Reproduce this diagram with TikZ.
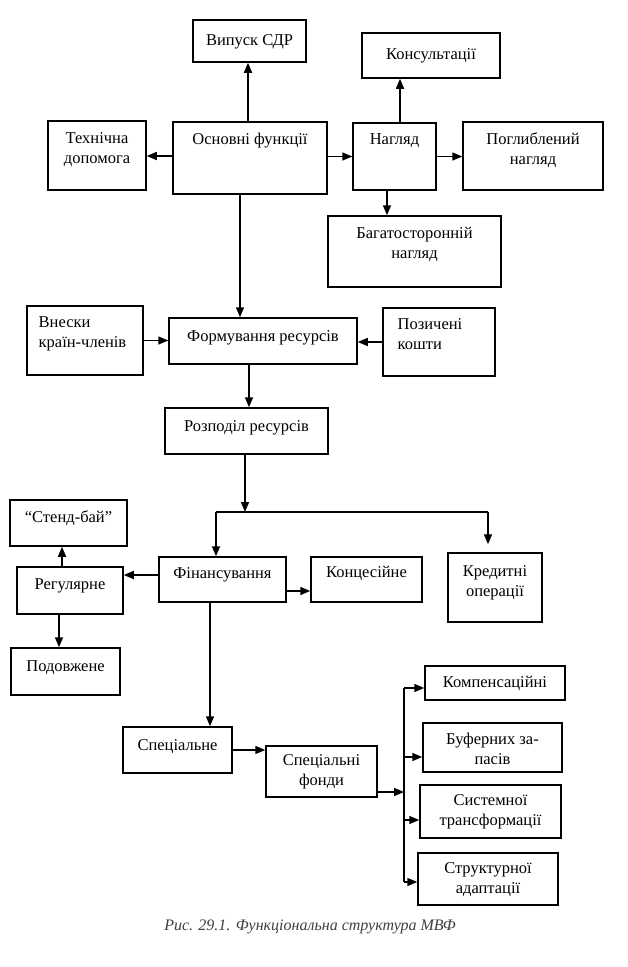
\documentclass[tikz,border=0pt]{standalone}
\usepackage{fontspec}
\setmainfont{Liberation Serif}
\usetikzlibrary{arrows.meta}
\newcommand\bt[2]{\raisebox{#1}[\height][\depth]{\begin{tabular}{@{}c@{}}#2\end{tabular}}}
\newcommand\btl[3]{\hspace*{#1}\raisebox{#2}[\height][\depth]{\begin{tabular}{@{}l@{}}#3\end{tabular}}}
\begin{document}
\begin{tikzpicture}[x=1pt,y=-1pt,
  box/.style={draw, line width=1.5pt, inner sep=0pt, align=center, font=\fontsize{16.5}{20}\selectfont},
  wh/.style 2 args={minimum width=#1pt, minimum height=#2pt},
  arr/.style={line width=1.5pt, -{Triangle[length=10pt,width=8pt]}},
  ln/.style={line width=1.5pt}]
\fill[white] (0,0) rectangle (627,967);
\useasboundingbox (0,0) rectangle (627,967);
% boxes
\node[box, wh={113}{42}] (vyp) at (249.5,41) {\bt{0pt}{Випуск СДР}};
\node[box, wh={138}{45}] (kons) at (431,55.5) {\bt{0pt}{Консультації}};
\node[box, wh={98}{69}] (teh) at (97,155.5) {\bt{6pt}{Технічна\\допомога}};
\node[box, wh={154}{72}] (osn) at (250,158) {\bt{18pt}{Основні функції}};
\node[box, wh={83}{67}] (nag) at (394.5,156.5) {\bt{16pt}{Нагляд}};
\node[box, wh={140}{68}] (pog) at (533,156) {\bt{6pt}{Поглиблений\\нагляд}};
\node[box, wh={173}{71}] (bag) at (414.5,251.5) {\bt{7pt}{Багатосторонній\\нагляд}};
\node[box, wh={116}{69}] (vnes) at (85,340.5) {\btl{-5pt}{7pt}{Внески\\країн-членів}};
\node[box, wh={188}{46}] (form) at (263,341) {\bt{4pt}{Формування ресурсів}};
\node[box, wh={112}{68}] (poz) at (439,342) {\btl{-18pt}{7pt}{Позичені\\кошти}};
\node[box, wh={163}{46}] (rozp) at (246.5,431) {\bt{4pt}{Розподіл ресурсів}};
\node[box, wh={117}{46}] (stand) at (68.5,523) {\bt{5pt}{“Стенд-бай”}};
\node[box, wh={106}{47}] (reg) at (70,590.5) {\bt{5pt}{Регулярне}};
\node[box, wh={127}{45}] (fin) at (222.5,579.5) {\bt{5pt}{Фінансування}};
\node[box, wh={111}{45}] (konc) at (366.5,579.5) {\bt{6pt}{Концесійне}};
\node[box, wh={94}{69}] (kred) at (495,587.5) {\bt{5pt}{Кредитні\\операції}};
\node[box, wh={109}{47}] (pod) at (65.5,671.5) {\bt{4pt}{Подовжене}};
\node[box, wh={109}{46}] (spec) at (177.5,750) {\bt{4pt}{Спеціальне}};
\node[box, wh={111}{51}] (fondy) at (321.5,771.5) {\bt{0pt}{Спеціальні\\фонди}};
\node[box, wh={140}{34}] (komp) at (495,683) {\bt{0pt}{Компенсаційні}};
\node[box, wh={139}{49}] (buf) at (492.5,747.5) {\bt{-3pt}{Буферних за-\\пасів}};
\node[box, wh={141}{53}] (sys) at (490.5,811.5) {\bt{0pt}{Системної\\трансформації}};
\node[box, wh={140}{52}] (str) at (488,879) {\bt{0pt}{Структурної\\адаптації}};
% connectors
\draw[arr] ([xshift=-2pt]osn.north) -- ([xshift=-2pt]osn.north |- vyp.south);
\draw[arr] ([xshift=5.5pt]nag.north) -- ([xshift=5.5pt]nag.north |- kons.south);
\draw[arr] ([yshift=-0.5pt]teh.east -| osn.west) -- ([yshift=-0.5pt]teh.east);
\draw[arr] (nag.west -| osn.east) -- (nag.west);
\draw[arr] (nag.east) -- (nag.east -| pog.west);
\draw[arr] ([xshift=-7.5pt]nag.south) -- ([xshift=-7.5pt]nag.south |- bag.north);
\draw[arr] ([xshift=-10pt]osn.south) -- ([xshift=-10pt]osn.south |- form.north);
\draw[arr] (vnes.east) -- (vnes.east -| form.west);
\draw[arr] (poz.west) -- (poz.west -| form.east);
\draw[arr] ([xshift=2.5pt]rozp.north |- form.south) -- ([xshift=2.5pt]rozp.north);
\coordinate (j) at (245,512);
\coordinate (jl) at (216,512);
\coordinate (jr) at (488,512);
\draw[arr] (rozp.south -| j) -- (j);
\draw[ln] (jl) -- (jr);
\draw[arr] (jl) -- (jl |- fin.north);
\draw[arr] (jr) -- ([yshift=8pt]jr |- kred.north);
\draw[arr] ([xshift=-8pt]reg.north) -- ([xshift=-8pt]reg.north |- stand.south);
\draw[arr] ([yshift=4.5pt]fin.west) -- ([yshift=4.5pt]fin.west -| reg.east);
\draw[arr] ([yshift=-11.5pt]fin.east) -- ([yshift=-11.5pt]fin.east -| konc.west);
\draw[arr] ([xshift=-11pt]reg.south) -- ([xshift=-11pt]reg.south |- pod.north);
\draw[arr] ([xshift=-12.5pt]fin.south) -- ([xshift=-12.5pt]fin.south |- spec.north);
\draw[arr] (spec.east) -- (spec.east -| fondy.west);
\coordinate (bm) at (404,792);
\coordinate (bt) at (404,688);
\coordinate (b2) at (404,757);
\coordinate (b3) at (404,820);
\coordinate (bb) at (404,882);
\draw[arr] (bm -| fondy.east) -- (bm);
\draw[ln] (bt) -- (bb);
\draw[arr] (bt) -- (bt -| komp.west);
\draw[arr] (b2) -- (b2 -| buf.west);
\draw[arr] (b3) -- (b3 -| sys.west);
\draw[arr] (bb) -- (bb -| str.west);
% caption
\node[font=\itshape\fontsize{16}{19}\selectfont, text=black!75, inner sep=0pt] (cap) at (310,927) {Рис. 29.1. Функціональна структура МВФ};
\end{tikzpicture}
\end{document}
